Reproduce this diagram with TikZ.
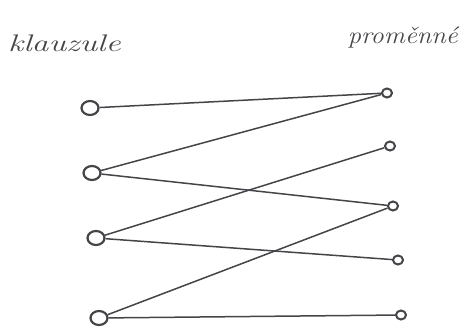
\documentclass[tikz,border=0pt]{standalone}
\usetikzlibrary{shapes.geometric}
\definecolor{ink}{RGB}{70,68,72}
\begin{document}
\begin{tikzpicture}[x=1pt,y=-1pt,
  lc/.style={draw=ink, line width=2.2pt, ellipse, inner sep=0pt, minimum width=17pt, minimum height=14pt},
  rc/.style={draw=ink, line width=2pt, ellipse, inner sep=0pt, minimum width=10pt, minimum height=9pt},
  edge/.style={draw=ink, line width=1.5pt},
  lbl/.style={text=ink, font=\fontsize{24}{26}\selectfont\itshape, inner sep=0pt}]
\useasboundingbox (0,0) rectangle (466,331);
\node[lbl, anchor=west] (t1) at (8,43) {\scalebox{1.4}[1]{klauzule}};
\node[lbl, anchor=east] (t2) at (458,37) {\scalebox{1.1}[1]{proměnné}};
\node[lc] (L1) at (90,108) {};
\node[lc] (L2) at (92,173) {};
\node[lc] (L3) at (96,238) {};
\node[lc] (L4) at (99,318) {};
\node[rc] (R1) at (387,93) {};
\node[rc] (R2) at (390,146) {};
\node[rc] (R3) at (393,206) {};
\node[rc] (R4) at (398,260) {};
\node[rc] (R5) at (401,315) {};
\draw[edge] (L1) -- (R1);
\draw[edge] (L2) -- (R1);
\draw[edge] (L2) -- (R3);
\draw[edge] (L3) -- (R2);
\draw[edge] (L3) -- (R4);
\draw[edge] (L4) -- (R3);
\draw[edge] (L4) -- (R5);
\end{tikzpicture}
\end{document}
